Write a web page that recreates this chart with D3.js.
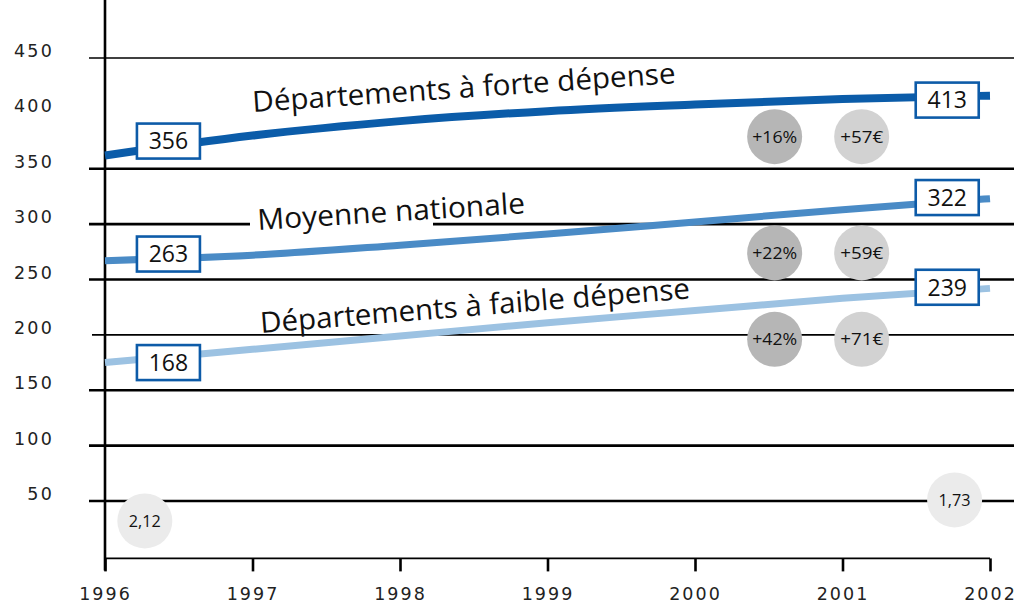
<!DOCTYPE html>
<html><head><meta charset="utf-8">
<script src="https://cdn.jsdelivr.net/npm/d3@7"></script>
<style>body{margin:0;background:#fff;} svg{display:block;}</style>
</head><body>
<svg id="c" width="1014" height="603"></svg>
<script>
// ---- data ----
const years = [1996, 1997, 1998, 1999, 2000, 2001, 2002];
const forte = [362, 380, 393, 402, 408, 413, 416];
const moyenne = [267, 272, 281, 291, 302, 313, 323];
const faible = [175, 187, 199, 211, 222, 233, 242];
const seriesNames = ["Départements à forte dépense", "Moyenne nationale", "Départements à faible dépense"];
const startLabels = ["356", "263", "168"];
const endLabels = ["413", "322", "239"];
const startLabelYear = 1996.43;
const endLabelYear = 2001.71;
const startLabelPos = [375, 273, 175];
const endLabelPos = [412, 324, 243];
const yTickLabels = [50, 100, 150, 200, 250, 300, 350, 400, 450];
const gridValues = [50, 100, 150, 200, 250, 300, 350, 450];
const thickGrid = [50, 100, 150, 250, 300, 350];
const pctLabels = ["+16%", "+22%", "+42%"];
const euroLabels = ["+57€", "+59€", "+71€"];
const pctYear = 2000.54;
const euroYear = 2001.13;
const circleRowValues = [379, 274, 196];
const ratioLabels = ["2,12", "1,73"];
const ratioYears = [1996.27, 2001.76];
const ratioValues = [32, 51];

// ---- setup ----
const svg = d3.select("#c");
const x = d3.scaleLinear().domain([1996, 2002]).range([105, 990]);
const y = d3.scaleLinear().domain([0, 450]).range([556.4, 58]);
const numFont = "'DejaVu Sans', sans-serif";
const txtFont = "'Open Sans', sans-serif";

// gridlines
svg.append("g").selectAll("line").data(gridValues).join("line")
  .attr("x1", d => d === 200 ? 92 : 89).attr("x2", 1014)
  .attr("y1", d => y(d)).attr("y2", d => y(d))
  .attr("stroke", "#000")
  .attr("stroke-width", d => thickGrid.includes(d) ? 2.6 : 1.6);

// white mask behind "Moyenne na"
svg.append("rect").attr("x", 250).attr("y", y(300) - 5).attr("width", 183).attr("height", 10).attr("fill", "#fff");

// y tick labels (400 has no gridline)
svg.append("g").selectAll("text").data(yTickLabels).join("text")
  .attr("x", 54).attr("y", d => y(d) - 1)
  .attr("text-anchor", "end")
  .attr("font-family", numFont).attr("font-size", 17.5)
  .attr("letter-spacing", 2.2)
  .attr("fill", "#222")
  .text(d => d);

// bottom axis
const xAxis = d3.axisBottom(x).tickValues(years).tickFormat(d3.format("d")).tickSize(13).tickSizeOuter(0);
const gx = svg.append("g").attr("transform", `translate(0,${y(0) + 2})`).call(xAxis);
gx.select(".domain").attr("stroke", "#000").attr("stroke-width", 1.6).attr("d", `M${x(1996)},0H${x(2002)}`);
gx.selectAll(".tick line").attr("stroke", "#000").attr("stroke-width", 2.6);
gx.selectAll(".tick text").attr("y", 42).attr("dy", 0)
  .attr("font-family", numFont).attr("font-size", 17.5).attr("letter-spacing", 2)
  .attr("fill", "#222");

// y axis line
svg.append("line").attr("x1", x(1996)).attr("x2", x(1996)).attr("y1", 0).attr("y2", y(0) + 14)
  .attr("stroke", "#000").attr("stroke-width", 2.6);

// series lines
const seriesData = [forte, moyenne, faible];
const colors = ["#0b5ca9", "#4a8bc6", "#9cc2e2"];
const widths = [8, 7, 7];
const line = d3.line().x((d, i) => x(years[i])).y(d => y(d)).curve(d3.curveMonotoneX);
svg.append("g").selectAll("path").data(seriesData).join("path")
  .attr("d", d => line(d))
  .attr("fill", "none")
  .attr("stroke", (d, i) => colors[i])
  .attr("stroke-width", (d, i) => widths[i]);

// series name labels
const nameGeom = [
  {tx: 253, ty: 112, rot: -3.9, len: 424},
  {tx: 258, ty: 230, rot: -3.6, len: 268},
  {tx: 261, ty: 333, rot: -4.6, len: 431}
];
svg.append("g").selectAll("text").data(seriesNames).join("text")
  .attr("transform", (d, i) => `translate(${nameGeom[i].tx},${nameGeom[i].ty}) rotate(${nameGeom[i].rot})`)
  .attr("font-family", txtFont).attr("font-size", 29)
  .attr("textLength", (d, i) => nameGeom[i].len)
  .attr("lengthAdjust", "spacingAndGlyphs")
  .attr("fill", "#111")
  .text(d => d);

// circles
function circleGroup(labels, year, values, fill, len) {
  const g = svg.append("g");
  labels.forEach((lab, i) => {
    const cx = x(Array.isArray(year) ? year[i] : year), cy = y(values[i]);
    g.append("circle").attr("cx", cx).attr("cy", cy).attr("r", 27.5).attr("fill", fill);
    g.append("text").attr("x", cx).attr("y", cy).attr("dy", "0.36em")
      .attr("text-anchor", "middle")
      .attr("font-family", txtFont).attr("font-size", 17)
      .attr("textLength", len).attr("lengthAdjust", "spacingAndGlyphs")
      .attr("fill", "#111").text(lab);
  });
}
circleGroup(pctLabels, pctYear, circleRowValues, "#b6b6b6", 45);
circleGroup(euroLabels, euroYear, circleRowValues, "#d2d2d2", 43);
circleGroup(ratioLabels, ratioYears, ratioValues, "#ebebeb", 32);

// value boxes
function boxes(labels, year, values) {
  const g = svg.append("g");
  labels.forEach((lab, i) => {
    const cx = x(year), cy = y(values[i]);
    g.append("rect").attr("x", cx - 31.5).attr("y", cy - 17.5).attr("width", 63).attr("height", 35)
      .attr("fill", "#fff").attr("stroke", "#0d5ba8").attr("stroke-width", 2.6);
    g.append("text").attr("x", cx).attr("y", cy).attr("dy", "0.36em")
      .attr("text-anchor", "middle")
      .attr("font-family", txtFont).attr("font-size", 23)
      .attr("fill", "#111").text(lab);
  });
}
boxes(startLabels, startLabelYear, startLabelPos);
boxes(endLabels, endLabelYear, endLabelPos);
</script>
</body></html>
